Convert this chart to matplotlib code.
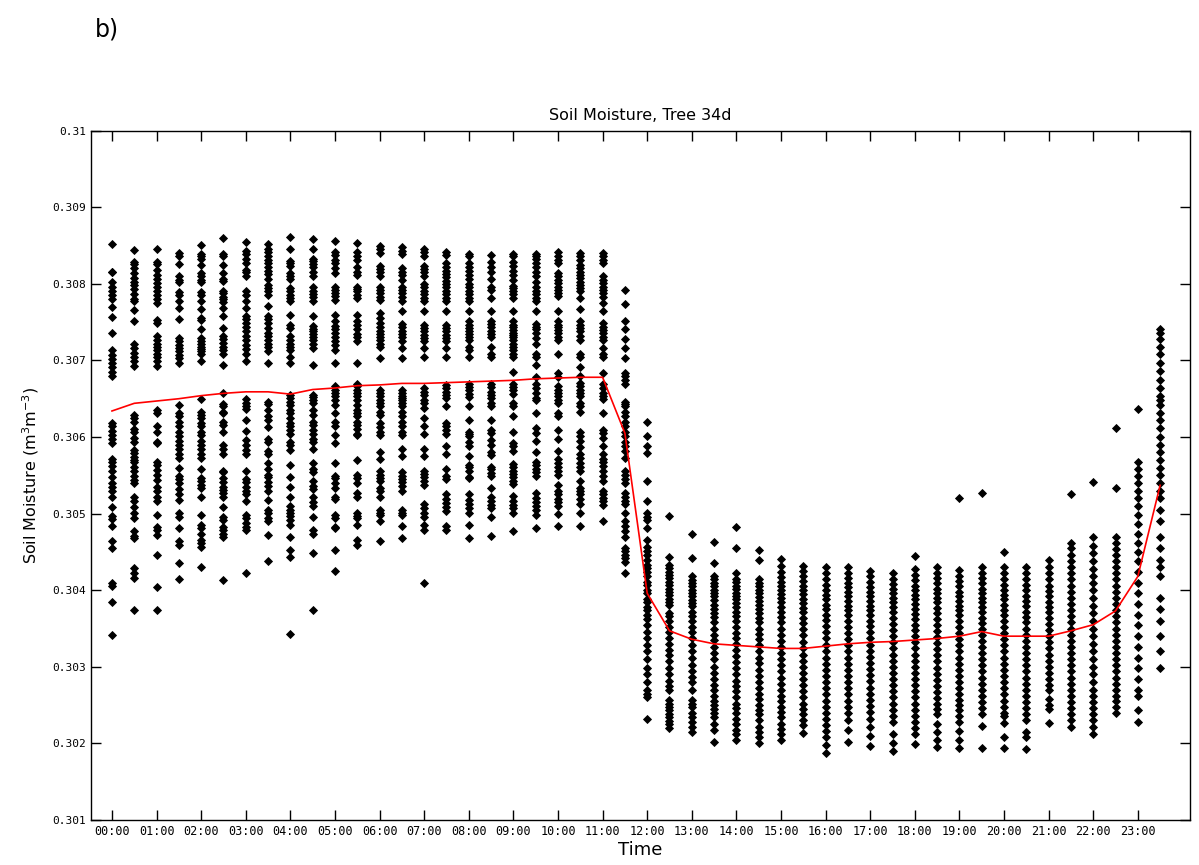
import matplotlib.pyplot as plt
import numpy as np

# Soil moisture readings per half hour, in units of 1e-5 m3/m3 above 0.300
m0000 = [852, 816, 815, 802, 796, 791, 786, 780, 770, 757, 736, 713, 707, 702, 696, 691, 685, 680,
         618, 614, 608, 603, 597, 592, 571, 567, 562, 556, 548, 540, 535, 529, 522, 509, 497, 493,
         484, 464, 455, 409, 405, 384, 342]
m0030 = [844, 829, 826, 821, 814, 808, 803, 799, 793, 787, 780, 777, 766, 751, 722, 716, 710, 705,
         699, 693, 629, 625, 620, 610, 607, 599, 594, 583, 579, 574, 570, 567, 561, 555, 549, 544,
         540, 522, 516, 509, 501, 494, 477, 471, 468, 429, 422, 416, 374]
m0100 = [845, 829, 826, 818, 812, 806, 801, 796, 791, 786, 780, 775, 753, 749, 732, 727, 722, 718,
         714, 709, 705, 699, 693, 635, 632, 614, 607, 594, 592, 568, 564, 557, 551, 544, 535, 529,
         522, 516, 498, 483, 479, 472, 446, 404, 374]
m0130 = [840, 836, 826, 810, 805, 802, 789, 786, 777, 769, 754, 729, 725, 720, 716, 712, 707, 703,
         697, 642, 632, 627, 620, 614, 607, 601, 595, 590, 584, 578, 572, 559, 549, 545, 540, 532,
         525, 518, 501, 496, 481, 464, 459, 435, 414]
m0200 = [851, 839, 836, 832, 825, 814, 810, 805, 802, 789, 786, 777, 767, 756, 753, 741, 729, 725,
         722, 718, 715, 712, 709, 699, 649, 633, 629, 625, 618, 614, 607, 603, 595, 590, 584, 578,
         572, 558, 546, 542, 538, 533, 522, 498, 485, 481, 474, 466, 461, 457, 430]
m0230 = [860, 839, 836, 825, 814, 806, 804, 791, 788, 783, 780, 776, 769, 758, 742, 732, 728, 723,
         718, 714, 709, 694, 657, 643, 640, 633, 631, 619, 616, 607, 590, 584, 578, 556, 554, 546,
         541, 535, 531, 527, 522, 509, 496, 492, 483, 479, 474, 470, 413]
m0300 = [855, 843, 839, 833, 827, 818, 815, 810, 790, 786, 778, 769, 758, 754, 749, 743, 738, 732,
         727, 720, 715, 709, 699, 649, 645, 640, 636, 622, 608, 596, 590, 583, 578, 556, 545, 541,
         535, 530, 525, 517, 498, 494, 488, 483, 479, 422]
m0330 = [852, 846, 841, 836, 831, 827, 822, 817, 813, 806, 799, 794, 790, 786, 771, 758, 754, 749,
         742, 736, 732, 727, 722, 717, 712, 697, 646, 643, 635, 627, 622, 613, 597, 594, 582, 578,
         566, 558, 551, 548, 541, 536, 530, 518, 505, 501, 494, 491, 472, 438]
m0400 = [861, 845, 830, 827, 823, 814, 810, 806, 794, 790, 786, 781, 777, 759, 746, 742, 732, 727,
         722, 717, 713, 705, 697, 655, 651, 646, 642, 635, 631, 625, 618, 614, 609, 604, 594, 590,
         583, 564, 548, 535, 522, 510, 505, 501, 497, 492, 485, 470, 452, 444, 343]
m0430 = [858, 845, 833, 830, 826, 822, 815, 810, 796, 791, 787, 783, 778, 758, 745, 741, 738, 735,
         730, 727, 722, 716, 694, 655, 652, 648, 644, 635, 629, 620, 616, 609, 604, 598, 593, 585,
         566, 558, 554, 542, 536, 532, 522, 515, 510, 496, 479, 474, 449, 374]
m0500 = [856, 842, 838, 831, 827, 820, 814, 796, 792, 788, 784, 779, 759, 751, 745, 741, 736, 730,
         726, 720, 713, 697, 666, 662, 657, 653, 648, 642, 632, 620, 614, 603, 592, 566, 549, 546,
         540, 533, 522, 519, 498, 494, 483, 481, 452, 425]
m0530 = [853, 841, 836, 831, 822, 816, 812, 796, 793, 790, 786, 781, 759, 752, 746, 741, 735, 730,
         725, 697, 669, 666, 662, 657, 653, 648, 642, 635, 632, 627, 620, 616, 610, 604, 602, 570,
         551, 546, 540, 527, 522, 501, 497, 494, 485, 465, 459]
m0600 = [850, 845, 840, 823, 819, 815, 810, 796, 792, 788, 783, 779, 762, 755, 749, 743, 739, 735,
         731, 727, 722, 717, 703, 661, 657, 653, 648, 644, 640, 633, 629, 618, 613, 607, 603, 581,
         571, 555, 551, 546, 542, 533, 529, 522, 505, 501, 498, 490, 464]
m0630 = [848, 843, 839, 820, 816, 812, 805, 796, 792, 788, 783, 778, 764, 748, 743, 739, 735, 730,
         726, 716, 703, 661, 657, 654, 651, 648, 644, 641, 633, 627, 619, 614, 607, 603, 585, 575,
         554, 549, 545, 541, 536, 529, 505, 501, 498, 484, 468]
m0700 = [845, 841, 836, 823, 819, 815, 810, 800, 796, 791, 787, 782, 778, 764, 746, 742, 738, 733,
         729, 725, 716, 704, 664, 659, 655, 648, 644, 638, 625, 614, 604, 585, 575, 556, 552, 548,
         543, 538, 512, 507, 501, 496, 485, 479, 409]
m0730 = [841, 838, 827, 822, 817, 813, 809, 804, 800, 796, 791, 787, 781, 777, 764, 746, 742, 738,
         733, 729, 725, 716, 705, 668, 664, 659, 655, 651, 640, 618, 614, 609, 604, 588, 578, 558,
         549, 545, 525, 519, 514, 508, 503, 484, 479]
m0800 = [839, 836, 827, 822, 817, 812, 806, 800, 796, 791, 787, 782, 778, 764, 751, 746, 742, 738,
         735, 731, 727, 718, 713, 705, 669, 665, 661, 656, 652, 640, 622, 607, 604, 601, 594, 588,
         575, 564, 561, 556, 548, 546, 525, 518, 513, 507, 501, 485, 468]
m0830 = [838, 828, 822, 816, 806, 796, 792, 781, 765, 752, 748, 743, 739, 735, 730, 718, 709, 704,
         669, 665, 659, 655, 651, 644, 641, 622, 609, 605, 596, 590, 580, 577, 561, 558, 553, 549,
         533, 522, 517, 511, 507, 496, 471]
m0900 = [839, 836, 828, 823, 817, 812, 805, 797, 794, 790, 787, 781, 765, 751, 746, 743, 740, 736,
         733, 730, 727, 722, 718, 713, 709, 705, 685, 669, 665, 661, 656, 645, 641, 628, 607, 592,
         588, 582, 565, 561, 556, 552, 548, 543, 539, 523, 516, 511, 507, 501, 477]
m0930 = [839, 836, 832, 827, 822, 816, 810, 803, 796, 791, 787, 782, 778, 765, 748, 744, 741, 736,
         729, 722, 709, 705, 694, 679, 669, 664, 657, 651, 648, 631, 612, 605, 595, 581, 568, 564,
         558, 554, 549, 527, 520, 515, 510, 505, 498, 481]
m1000 = [841, 836, 831, 827, 814, 810, 805, 801, 796, 792, 788, 784, 765, 751, 746, 743, 740, 736,
         731, 727, 709, 683, 679, 666, 662, 657, 653, 648, 645, 631, 627, 609, 597, 582, 571, 566,
         561, 556, 551, 538, 529, 525, 519, 515, 510, 500, 484]
m1030 = [840, 836, 831, 825, 820, 816, 812, 807, 803, 799, 794, 790, 781, 767, 751, 746, 742, 738,
         732, 727, 709, 705, 692, 680, 670, 666, 662, 657, 653, 645, 640, 633, 606, 601, 595, 587,
         578, 572, 566, 561, 555, 542, 533, 529, 525, 519, 513, 501, 484]
m1100 = [840, 836, 831, 827, 810, 805, 801, 796, 792, 788, 783, 775, 765, 749, 744, 740, 736, 731,
         727, 716, 709, 705, 684, 669, 664, 657, 653, 649, 631, 609, 605, 599, 588, 578, 571, 567,
         562, 556, 549, 542, 530, 525, 520, 516, 511, 490]
m1130 = [792, 774, 751, 741, 728, 716, 703, 684, 680, 675, 669, 646, 643, 640, 633, 627, 620, 614,
         607, 601, 594, 588, 582, 572, 556, 551, 545, 540, 527, 522, 517, 513, 501, 490, 484, 477,
         470, 455, 451, 446, 442, 437, 423]
m1200 = [620, 601, 588, 579, 543, 516, 501, 496, 492, 481, 466, 457, 451, 446, 440, 433, 429, 424,
         418, 411, 407, 400, 396, 389, 385, 378, 374, 368, 363, 355, 346, 338, 329, 320, 310, 299,
         290, 280, 270, 265, 260, 232]
m1230 = [497, 444, 433, 429, 424, 420, 416, 411, 407, 402, 398, 394, 389, 385, 381, 370, 366, 360,
         352, 345, 338, 330, 322, 315, 307, 298, 290, 282, 275, 270, 257, 252, 248, 243, 238, 234,
         229, 225, 220]
m1300 = [474, 442, 418, 413, 409, 405, 400, 396, 392, 387, 383, 379, 372, 366, 360, 352, 345, 337,
         328, 320, 312, 303, 295, 287, 280, 270, 257, 252, 247, 240, 235, 228, 222, 215]
m1330 = [463, 436, 418, 414, 409, 405, 400, 396, 392, 387, 381, 376, 370, 365, 358, 350, 342, 335,
         326, 318, 310, 300, 292, 284, 276, 270, 262, 256, 250, 245, 240, 235, 225, 218, 202]
m1400 = [482, 455, 422, 415, 411, 406, 402, 397, 393, 388, 383, 378, 372, 366, 360, 352, 344, 337,
         330, 322, 314, 306, 298, 290, 282, 275, 268, 260, 252, 246, 240, 232, 225, 218, 212, 205]
m1430 = [452, 440, 415, 410, 405, 400, 396, 391, 386, 381, 376, 370, 364, 358, 350, 343, 336, 328,
         320, 312, 305, 296, 288, 280, 272, 265, 258, 250, 244, 238, 230, 222, 215, 208, 200]
m1500 = [441, 432, 424, 417, 411, 405, 400, 395, 390, 384, 378, 371, 365, 358, 350, 342, 334, 326,
         318, 310, 302, 294, 286, 278, 270, 262, 255, 248, 241, 234, 226, 219, 212, 205]
m1530 = [432, 425, 418, 412, 406, 400, 395, 389, 383, 377, 371, 364, 357, 349, 341, 332, 324, 316,
         308, 300, 292, 284, 276, 268, 260, 252, 245, 238, 231, 224, 214]
m1600 = [430, 422, 414, 407, 400, 394, 388, 381, 375, 368, 361, 353, 345, 337, 328, 320, 312, 304,
         296, 288, 280, 272, 264, 256, 248, 240, 232, 224, 216, 208, 198, 187]
m1630 = [430, 423, 416, 410, 404, 398, 392, 386, 380, 374, 367, 360, 352, 344, 336, 328, 320, 312,
         304, 296, 288, 280, 272, 264, 256, 248, 240, 230, 218, 202]
m1700 = [425, 418, 411, 404, 398, 392, 386, 380, 374, 367, 360, 353, 345, 337, 329, 321, 313, 305,
         297, 289, 281, 273, 265, 257, 249, 241, 232, 222, 210, 197]
m1730 = [422, 415, 408, 402, 396, 390, 384, 378, 371, 364, 356, 348, 340, 332, 324, 316, 308, 300,
         292, 284, 276, 268, 260, 252, 244, 236, 228, 212, 200, 190]
m1800 = [445, 428, 420, 413, 406, 400, 394, 388, 382, 376, 369, 362, 355, 348, 340, 332, 324, 316,
         308, 300, 292, 284, 276, 268, 260, 252, 244, 236, 228, 220, 212, 199]
m1830 = [430, 423, 416, 409, 402, 396, 390, 384, 377, 370, 363, 355, 347, 339, 331, 323, 315, 307,
         299, 291, 283, 275, 267, 259, 252, 245, 238, 225, 215, 204, 195]
m1900 = [521, 426, 419, 412, 405, 398, 392, 386, 380, 374, 367, 360, 352, 344, 336, 328, 320, 312,
         304, 296, 288, 280, 272, 264, 257, 250, 243, 236, 228, 216, 205, 194]
m1930 = [527, 430, 423, 416, 409, 402, 396, 390, 384, 378, 371, 364, 357, 350, 342, 334, 326, 318,
         310, 302, 294, 286, 278, 270, 262, 254, 246, 238, 223, 194]
m2000 = [450, 430, 422, 414, 407, 400, 394, 388, 381, 374, 367, 360, 352, 344, 336, 328, 320, 312,
         304, 296, 288, 280, 272, 264, 256, 248, 240, 236, 227, 208, 194]
m2030 = [430, 422, 414, 407, 400, 393, 386, 379, 372, 365, 358, 350, 342, 334, 326, 318, 310, 302,
         294, 286, 278, 270, 262, 254, 246, 238, 230, 215, 208, 193]
m2100 = [440, 430, 422, 414, 406, 399, 392, 385, 378, 371, 364, 356, 348, 340, 332, 324, 316, 308,
         300, 292, 284, 276, 270, 258, 250, 245, 227]
m2130 = [525, 462, 455, 446, 438, 430, 422, 414, 406, 398, 390, 382, 374, 366, 358, 350, 342, 334,
         326, 318, 310, 302, 294, 286, 278, 270, 262, 254, 246, 238, 230, 222]
m2200 = [541, 470, 458, 448, 438, 428, 419, 410, 400, 390, 380, 370, 360, 350, 340, 330, 320, 310,
         300, 290, 280, 270, 262, 254, 246, 238, 230, 222, 212]
m2230 = [612, 534, 470, 462, 454, 446, 438, 430, 422, 414, 406, 398, 390, 382, 374, 366, 358, 350,
         342, 334, 326, 318, 310, 302, 294, 286, 278, 270, 262, 255, 248, 240]
m2300 = [637, 568, 558, 549, 540, 530, 520, 510, 498, 486, 474, 462, 450, 438, 424, 410, 396, 382,
         368, 354, 340, 326, 312, 298, 284, 270, 262, 244, 228]
m2330 = [741, 736, 728, 718, 708, 697, 686, 675, 664, 653, 648, 642, 632, 622, 612, 600, 590, 580,
         570, 560, 550, 540, 530, 520, 505, 490, 470, 455, 440, 430, 418, 390, 375, 360, 340, 320,
         298]

columns = [m0000, m0030, m0100, m0130, m0200, m0230, m0300, m0330, m0400, m0430, m0500, m0530,
           m0600, m0630, m0700, m0730, m0800, m0830, m0900, m0930, m1000, m1030, m1100, m1130,
           m1200, m1230, m1300, m1330, m1400, m1430, m1500, m1530, m1600, m1630, m1700, m1730,
           m1800, m1830, m1900, m1930, m2000, m2030, m2100, m2130, m2200, m2230, m2300, m2330]

# half-hourly mean (red line), same units
mean_line = [634, 644, 647, 650, 654, 657, 659, 659, 656, 662, 664, 667, 668, 670, 670, 671,
             672, 673, 674, 676, 677, 678, 678, 605, 396, 347, 336, 330, 328, 326, 324, 324,
             327, 330, 332, 333, 335, 337, 340, 346, 340, 340, 340, 347, 355, 373, 418, 537]

hour_labels = ['%02d:00' % h for h in range(24)]
y_ticks = [0.301, 0.302, 0.303, 0.304, 0.305, 0.306, 0.307, 0.308, 0.309, 0.31]

fig = plt.figure(figsize=(11.99, 8.65), dpi=100)
ax = fig.add_axes([0.0759, 0.052, 0.9166, 0.797])

for i, vals in enumerate(columns):
    y = 0.3 + np.array(vals) * 1e-5
    ax.plot(np.full(len(y), i * 0.5), y, 'D', color='black', ms=3.6, mew=0.6)

t = np.arange(len(mean_line)) * 0.5
ax.plot(t, 0.3 + np.array(mean_line) * 1e-5, color='red', lw=1.2)

ax.set_xlim(-0.47, 24.17)
ax.set_ylim(0.301, 0.31)
ax.set_xticks(range(24))
ax.set_xticklabels(hour_labels, family='DejaVu Sans Mono', fontsize=8.5)
ax.set_yticks(y_ticks)
ax.set_yticklabels([('%g' % v) for v in y_ticks], family='DejaVu Sans Mono', fontsize=8)
ax.tick_params(direction='in', top=True, right=True, length=7, width=1)
for s in ax.spines.values():
    s.set_linewidth(1)

ax.set_title('Soil Moisture, Tree 34d', fontsize=11.5, pad=8)
ax.set_xlabel('Time', fontsize=13, labelpad=2)
ax.set_ylabel('Soil Moisture (m$^3$m$^{-3}$)', fontsize=11.5, labelpad=8)
fig.text(0.079, 0.958, 'b)', fontsize=17)

fig.savefig('out.png', dpi=100)
